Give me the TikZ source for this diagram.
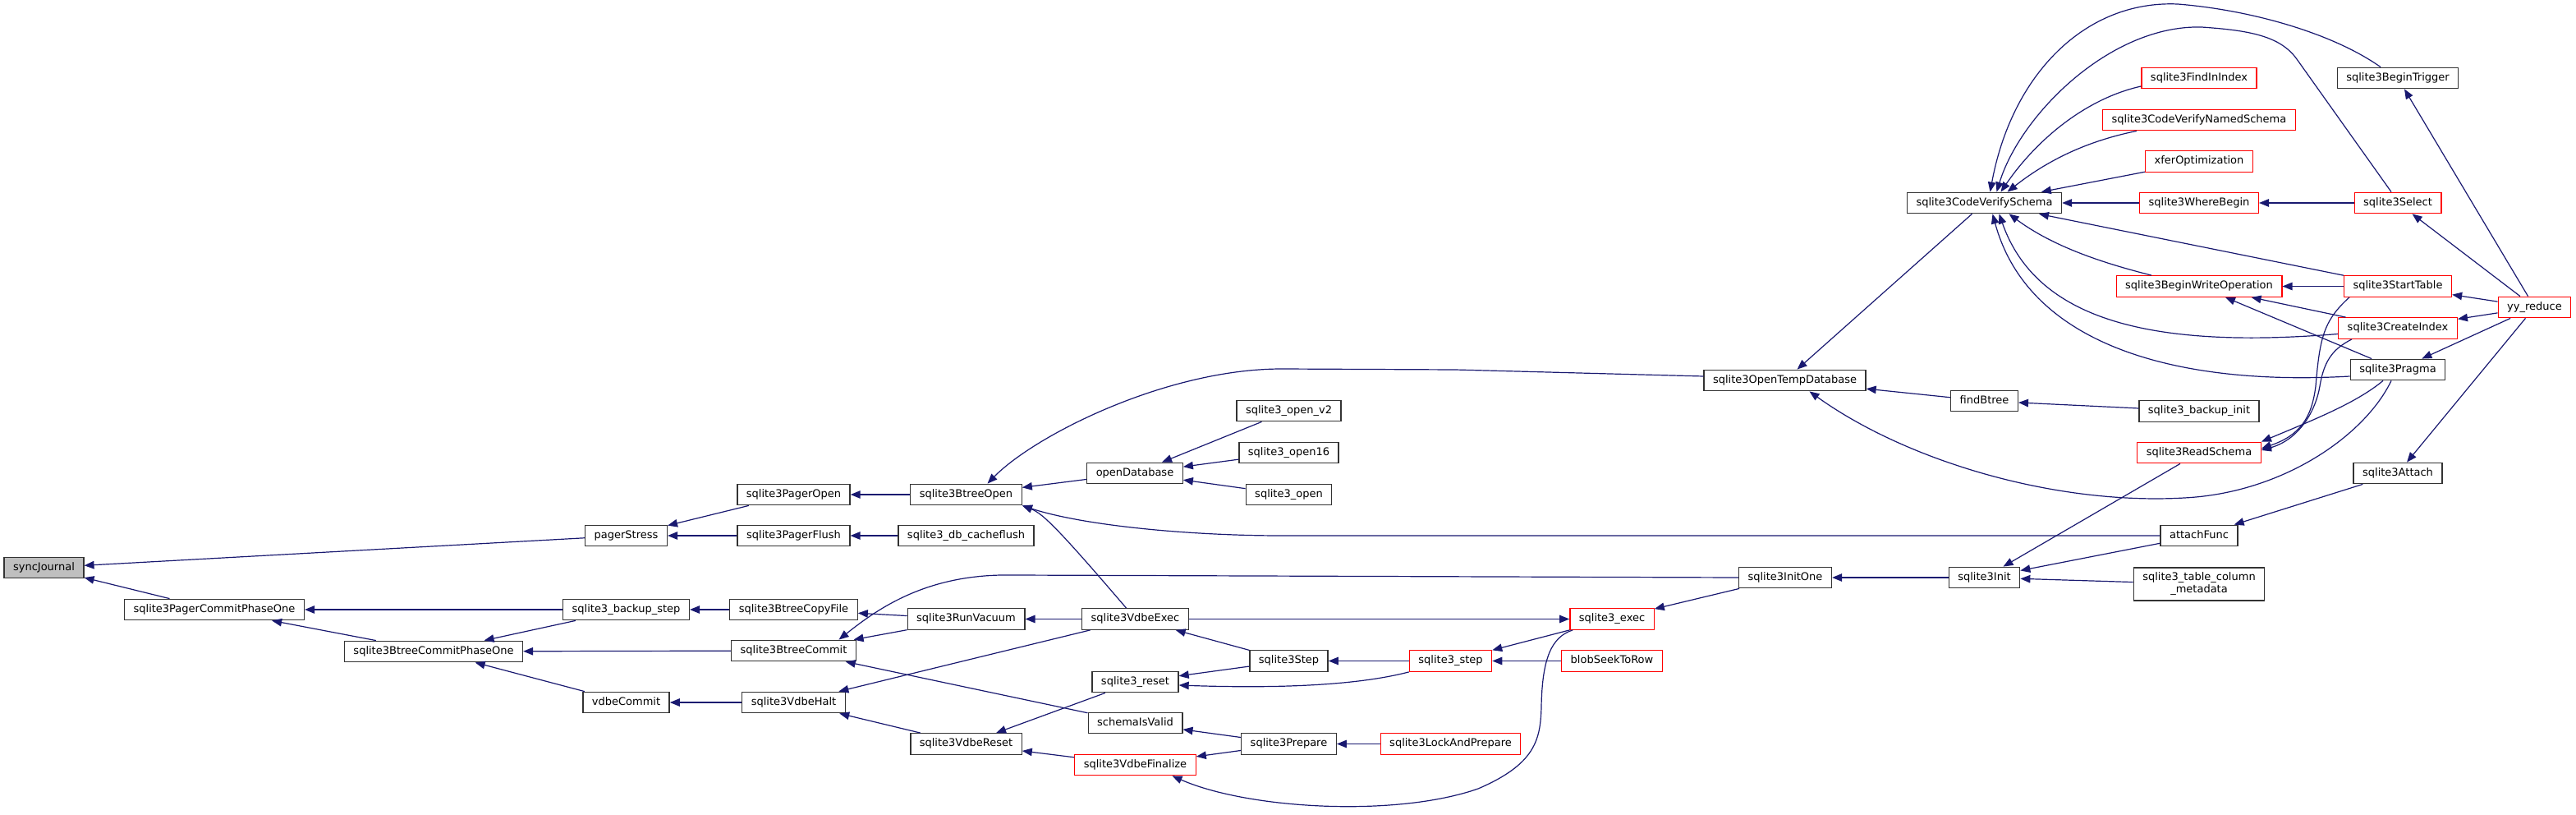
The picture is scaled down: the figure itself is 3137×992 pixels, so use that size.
\documentclass[tikz,border=0pt]{standalone}
\usepackage{fontspec}
\setmainfont{DejaVu Sans}
\usetikzlibrary{arrows.meta}
\definecolor{edgeblue}{HTML}{191970}
\definecolor{rootgray}{HTML}{BFBFBF}

\begin{document}
\begin{tikzpicture}[x=1pt, y=-1pt,
    fnbase/.style={draw=black!80, fill=white, line width=1.3pt, minimum height=25.5pt,
      inner xsep=11pt, inner ysep=0pt, font=\fontsize{13}{15}\selectfont},
    fn/.style={fnbase, text height=9.5pt, text depth=3pt},
    fnred/.style={fn, draw=red},
    fnroot/.style={fn, fill=rootgray},
    call/.style={draw=edgeblue, line width=1.2pt, {Triangle[length=12pt,width=9.5pt]}-}]
  \useasboundingbox (0,0) rectangle (3137,992);

  \node[fnroot] (sj) at (53.5,691) {syncJournal};
  \node[fn] (pcpo) at (261,742) {sqlite3PagerCommitPhaseOne};
  \node[fn] (bcpo) at (528,793) {sqlite3BtreeCommitPhaseOne};
  \node[fn] (ps) at (762.5,652) {pagerStress};
  \node[fn] (bks) at (762.5,742) {sqlite3\_backup\_step};
  \node[fn] (vc) at (762.5,855) {vdbeCommit};
  \node[fn] (pgo) at (966.5,602) {sqlite3PagerOpen};
  \node[fn] (pgf) at (966.5,652) {sqlite3PagerFlush};
  \node[fn] (bcf) at (966.5,742) {sqlite3BtreeCopyFile};
  \node[fn] (btc) at (966.5,792) {sqlite3BtreeCommit};
  \node[fn] (vh) at (966.5,855) {sqlite3VdbeHalt};
  \node[fn] (bto) at (1176.5,602) {sqlite3BtreeOpen};
  \node[fn] (dcf) at (1176.5,652) {sqlite3\_db\_cacheflush};
  \node[fn] (rv) at (1176.5,753.5) {sqlite3RunVacuum};
  \node[fn] (vr) at (1176.5,905.5) {sqlite3VdbeReset};
  \node[fn] (od) at (1382,576) {openDatabase};
  \node[fn] (vx) at (1382.5,753.5) {sqlite3VdbeExec};
  \node[fn] (rs) at (1382.5,830) {sqlite3\_reset};
  \node[fn] (siv) at (1382.5,880) {schemaIsValid};
  \node[fnred] (vf) at (1382.5,931) {sqlite3VdbeFinalize};
  \node[fn] (ov2) at (1569.5,500) {sqlite3\_open\_v2};
  \node[fn] (o16) at (1569.5,551) {sqlite3\_open16};
  \node[fn] (oo) at (1569.5,602) {sqlite3\_open};
  \node[fn] (stp) at (1569.5,804.5) {sqlite3Step};
  \node[fn] (prep) at (1569.5,905.5) {sqlite3Prepare};
  \node[fnred] (sst) at (1766.5,804.5) {sqlite3\_step};
  \node[fnred] (lap) at (1766.5,905.5) {sqlite3LockAndPrepare};
  \node[fnred] (ex) at (1963,753.5) {sqlite3\_exec};
  \node[fnred] (bsr) at (1963,804.5) {blobSeekToRow};
  \node[fn] (otd) at (2173.5,463) {sqlite3OpenTempDatabase};
  \node[fn] (io) at (2174,703) {sqlite3InitOne};
  \node[fn] (cvs) at (2416.5,247) {sqlite3CodeVerifySchema};
  \node[fn] (fb) at (2416.5,488) {findBtree};
  \node[fn] (ini) at (2416.5,703) {sqlite3Init};
  \node[fnred] (fii) at (2678,95) {sqlite3FindInIndex};
  \node[fnred] (cvn) at (2678,146) {sqlite3CodeVerifyNamedSchema};
  \node[fnred] (xo) at (2678,196.5) {xferOptimization};
  \node[fnred] (wb) at (2678,247) {sqlite3WhereBegin};
  \node[fnred] (bwo) at (2678,348.5) {sqlite3BeginWriteOperation};
  \node[fn] (bki) at (2678,500.5) {sqlite3\_backup\_init};
  \node[fnred] (rds) at (2678,551) {sqlite3ReadSchema};
  \node[fn] (af) at (2678,652) {attachFunc};
  \node[fnbase, align=center, minimum height=40pt] (tcm) at (2678,711) {sqlite3\_table\_column\\\_metadata};
  \node[fn] (btg) at (2920,95) {sqlite3BeginTrigger};
  \node[fnred] (sel) at (2920,247) {sqlite3Select};
  \node[fnred] (stt) at (2920,348.5) {sqlite3StartTable};
  \node[fnred] (cix) at (2920,399.5) {sqlite3CreateIndex};
  \node[fn] (pra) at (2920,450) {sqlite3Pragma};
  \node[fn] (att) at (2920,576) {sqlite3Attach};
  \node[fnred] (yy) at (3086.5,374) {yy\_reduce};

  \draw[call] (sj) -- (ps);
  \draw[call] (sj) -- (pcpo);
  \draw[call] (pcpo) -- (bks);
  \draw[call] (pcpo) -- (bcpo);
  \draw[call] (bcpo) -- (bks);
  \draw[call] (bcpo) -- (btc);
  \draw[call] (bcpo) -- (vc);
  \draw[call] (ps) -- (pgo);
  \draw[call] (ps) -- (pgf);
  \draw[call] (pgo) -- (bto);
  \draw[call] (pgf) -- (dcf);
  \draw[call] (bks) -- (bcf);
  \draw[call] (bcf) -- (rv);
  \draw[call] (btc) -- (rv);
  \draw[call] ([xshift=55pt]btc.north) .. controls (1070,740) and (1130,698) .. (1233,700) -- (io.west);
  \draw[call] (btc) -- (siv);
  \draw[call] (vc) -- (vh);
  \draw[call] (vh) -- (vx);
  \draw[call] (vh) -- (vr);
  \draw[call] (bto) -- (od);
  \draw[call] ([xshift=26pt]bto.north) .. controls (1260,530) and (1420,449) .. (1561,449) -- (1772,450) -- ([yshift=5pt]otd.west);
  \draw[call] (bto.south east) .. controls (1320,640) and (1450,652) .. (1561,652) -- (af.west);
  \draw[call] (bto.south east) .. controls (1270,625) and (1290,645) .. ([xshift=-11pt]vx.north);
  \draw[call] (rv) -- (vx);
  \draw[call] (vr) -- (vf);
  \draw[call] (vr) -- (rs);
  \draw[call] (od) -- (ov2);
  \draw[call] (od) -- (o16);
  \draw[call] (od) -- (oo);
  \draw[call] (ex) -- (vx);
  \draw[call] (vx) -- (stp);
  \draw[call] (rs) -- (stp);
  \draw[call] ([yshift=-4pt]rs.east) .. controls (1550,838) and (1650,835) .. (sst.south west);
  \draw[call] (siv) -- (prep);
  \draw[call] (vf) -- (prep);
  \draw[call] ([xshift=45pt]vf.south) .. controls (1520,985) and (1700,995) .. (1800,960)
    .. controls (1870,930) and (1876,900) .. (1877,860)
    .. controls (1878,800) and (1890,775) .. ([xshift=4pt]ex.south west);
  \draw[call] (stp) -- (sst);
  \draw[call] (prep) -- (lap);
  \draw[call] (sst) -- (ex);
  \draw[call] (sst) -- (bsr);
  \draw[call] (ex) -- (io);
  \draw[call] (io) -- (ini);
  \draw[call] (ini) -- (rds);
  \draw[call] (ini) -- (af);
  \draw[call] (ini) -- (tcm);
  \draw[call] (otd) -- (cvs);
  \draw[call] (otd) -- (fb);
  \draw[call] ([xshift=30pt]otd.south) .. controls (2320,560) and (2500,615) .. (2660,606)
    .. controls (2780,600) and (2880,530) .. ([xshift=-8pt]pra.south);
  \draw[call] (fb) -- (bki);
  \draw[call] ([xshift=20pt]cvs.north) .. controls (2480,170) and (2540,120) .. ([yshift=-10pt]fii.west);
  \draw[call] ([xshift=28pt]cvs.north) .. controls (2500,190) and (2550,170) .. ([xshift=42pt]cvn.south west);
  \draw[call] (cvs) -- (xo);
  \draw[call] (cvs) -- (wb);
  \draw[call] ([xshift=7pt]cvs.north) .. controls (2450,90) and (2540,0) .. (2652,5)
    .. controls (2740,12) and (2840,40) .. ([xshift=-21pt]btg.north);
  \draw[call] ([xshift=15pt]cvs.north) .. controls (2460,140) and (2570,30) .. (2681,33)
    .. controls (2740,37) and (2777,44) .. (2797,72) -- ([xshift=-8pt]sel.north);
  \draw[call] (cvs) -- (stt);
  \draw[call] ([xshift=30pt]cvs.south) .. controls (2500,300) and (2560,320) .. ([xshift=-58pt]bwo.north);
  \draw[call] ([xshift=18pt]cvs.south) .. controls (2480,390) and (2620,425) .. ([yshift=-7pt]cix.west);
  \draw[call] ([xshift=10pt]cvs.south) .. controls (2470,420) and (2650,470) .. ([yshift=-8pt]pra.west);
  \draw[call] (wb) -- (sel);
  \draw[call] (btg) -- (yy);
  \draw[call] (sel) -- (yy);
  \draw[call] (bwo) -- (stt);
  \draw[call] (bwo) -- (cix);
  \draw[call] (bwo) -- (pra);
  \draw[call] (stt) -- (yy);
  \draw[call] (cix) -- (yy);
  \draw[call] (pra) -- (yy);
  \draw[call] (att) -- (yy);
  \draw[call] ([yshift=5pt]rds.east) .. controls (2800,530) and (2815,510) .. (2820,470)
    .. controls (2825,410) and (2830,390) .. ([xshift=-59pt]stt.south);
  \draw[call] ([yshift=3pt]rds.east) .. controls (2800,535) and (2820,500) .. (2825,470)
    .. controls (2830,440) and (2840,425) .. ([xshift=-56pt]cix.south);
  \draw[call] (rds.north east) .. controls (2820,510) and (2870,490) .. ([xshift=-18pt]pra.south);
  \draw[call] (af) -- (att);
\end{tikzpicture}
\end{document}
